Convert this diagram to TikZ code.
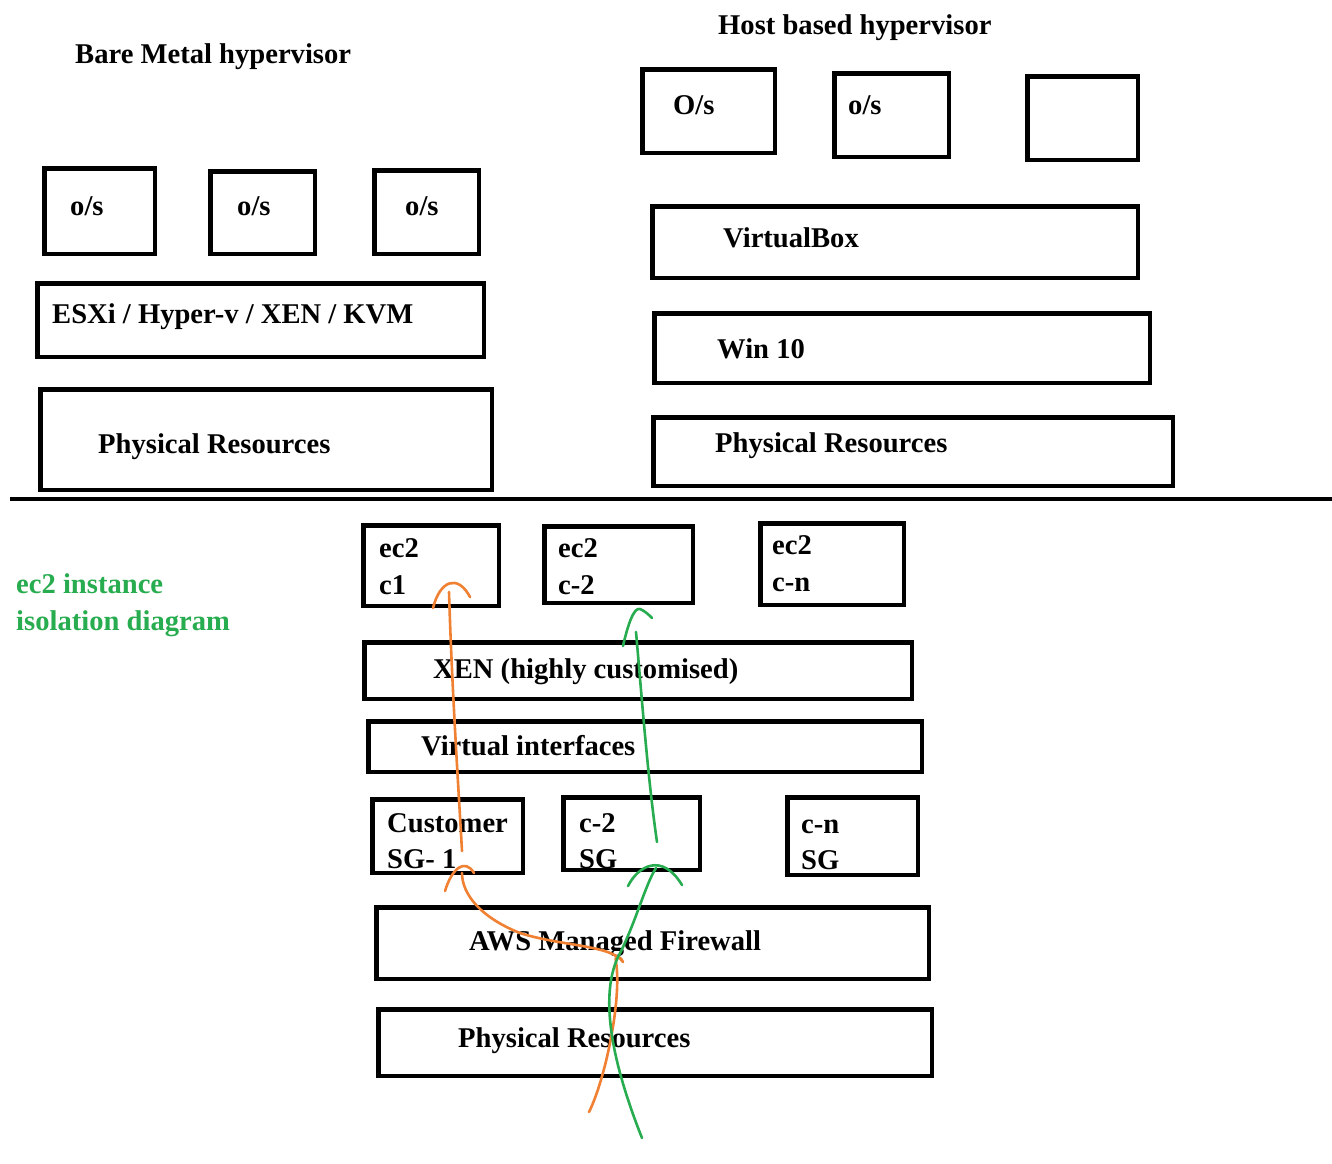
\documentclass[tikz,border=0pt]{standalone}
\usepackage{fontspec}
\setmainfont{Liberation Serif}
\usepackage{tikz}
\definecolor{penorange}{RGB}{240,128,50}
\definecolor{pengreen}{RGB}{40,172,80}

\begin{document}
\begin{tikzpicture}[x=1pt,y=-1pt,
  box/.style={draw,line width=4.5pt,inner sep=0pt,outer sep=0pt},
  txt/.style={anchor=base west,inner sep=0pt,font=\fontsize{28.6}{34}\selectfont\bfseries},
  pen/.style={line width=2.6pt,line cap=round,line join=round}]
\fill[white] (0,0) rectangle (1332,1163);
\useasboundingbox (0,0) rectangle (1332,1163);

% bare metal side
\node[txt] (bmTitle) at (75,63) {Bare Metal hypervisor};
\node[box,minimum width=110.5,minimum height=85.5] (bmOsA) at (99.5,211) {};
\node[box,minimum width=104.5,minimum height=82.5] (bmOsB) at (262.5,212.5) {};
\node[box,minimum width=104.5,minimum height=83.5] (bmOsC) at (426.5,212) {};
\node[txt] at (70,215) {o/s};
\node[txt] at (237,215) {o/s};
\node[txt] at (405,215) {o/s};
\node[box,minimum width=446.5,minimum height=73.5] (bmHyp) at (260.5,320) {};
\node[txt] at (52,323) {ESXi / Hyper-v / XEN / KVM};
\node[box,minimum width=451.5,minimum height=100.5] (bmPhys) at (266,439.5) {};
\node[txt] at (98,453) {Physical Resources};

% host based side
\node[txt] (hbTitle) at (718,34) {Host based hypervisor};
\node[box,minimum width=132.5,minimum height=83.5] (hbOsA) at (708.5,111) {};
\node[box,minimum width=114.5,minimum height=83.5] (hbOsB) at (891.5,115) {};
\node[box,minimum width=110.5,minimum height=83.5] (hbOsC) at (1082.5,118) {};
\node[txt] at (673,114) {O/s};
\node[txt] at (848,114) {o/s};
\node[box,minimum width=485.5,minimum height=71.5] (hbVbox) at (895,242) {};
\node[txt] at (723,247) {VirtualBox};
\node[box,minimum width=495.5,minimum height=69.5] (hbWin) at (902,348) {};
\node[txt] at (717,358) {Win 10};
\node[box,minimum width=519.5,minimum height=68.5] (hbPhys) at (913,451.5) {};
\node[txt] at (715,452) {Physical Resources};

% divider
\coordinate (divL) at (10,499);
\coordinate (divR) at (1332,499);
\draw[line width=4pt] (divL) -- (divR);

% ec2 isolation
\node[txt,pengreen] (isoA) at (16,593) {ec2 instance};
\node[txt,pengreen] (isoB) at (16,630) {isolation diagram};
\node[box,minimum width=135.5,minimum height=80.5] (ecA) at (431,565.5) {};
\node[box,minimum width=148.5,minimum height=76.5] (ecB) at (618.5,564.5) {};
\node[box,minimum width=143.5,minimum height=81.5] (ecN) at (832,564) {};
\node[txt] at (379,557) {ec2};
\node[txt] at (379,594) {c1};
\node[txt] at (558,557) {ec2};
\node[txt] at (558,594) {c-2};
\node[txt] at (772,554) {ec2};
\node[txt] at (772,591) {c-n};
\node[box,minimum width=547.5,minimum height=56.5] (xen) at (638,670.5) {};
\node[txt] at (433,678) {XEN (highly customised)};
\node[box,minimum width=553.5,minimum height=50.5] (vif) at (645,746.5) {};
\node[txt] at (421,755) {Virtual interfaces};
\node[box,minimum width=150.5,minimum height=73.5] (sgA) at (447.5,836) {};
\node[box,minimum width=136.5,minimum height=72.5] (sgB) at (631.5,833.5) {};
\node[box,minimum width=130.5,minimum height=77.5] (sgN) at (852.5,836) {};
\node[txt] at (387,832) {Customer};
\node[txt] at (387,868) {SG- 1};
\node[txt] at (579,832) {c-2};
\node[txt] at (579,868) {SG};
\node[txt] at (801,833) {c-n};
\node[txt] at (801,869) {SG};
\node[box,minimum width=552.5,minimum height=71.5] (fw) at (652.5,943) {};
\node[txt] at (469,950) {AWS Managed Firewall};
\node[box,minimum width=553.5,minimum height=66.5] (phys) at (655,1042.5) {};
\node[txt] at (458,1047) {Physical Resources};

% traffic paths
\coordinate (oFoot) at (589,1112);
\coordinate (oSg) at (462,873);
\coordinate (oSgUp) at (462,851);
\coordinate (oEc) at (449,592);
\coordinate (gFoot) at (642,1138);
\coordinate (gSg) at (656,868);
\coordinate (gSgUp) at (657,842);
\coordinate (gEc) at (636,632);
\draw[pen,penorange] (oFoot) .. controls (605,1080) and (622,1000) .. (616,962)
  .. controls (614,952) and (622,958) .. (623,962)
  .. controls (612,945) and (560,946) .. (520,933) .. controls (482,918) and (462,895) .. (oSg);
\draw[pen,penorange] (445,891) .. controls (452,868) and (465,858) .. (474,873);
\draw[pen,penorange] (oSgUp) .. controls (458,780) and (452,690) .. (oEc);
\draw[pen,penorange] (433,608) .. controls (440,580) and (458,574) .. (470,597);
\draw[pen,pengreen] (gFoot) .. controls (615,1070) and (598,1000) .. (618,957)
  .. controls (635,925) and (645,885) .. (gSg);
\draw[pen,pengreen] (628,886) .. controls (638,866) and (662,852) .. (682,885);
\draw[pen,pengreen] (gSgUp) .. controls (648,780) and (642,700) .. (gEc);
\draw[pen,pengreen] (623,646) .. controls (628,624) and (634,607) .. (640,609) .. controls (645,611) and (649,615) .. (652,618);
\end{tikzpicture}
\end{document}
